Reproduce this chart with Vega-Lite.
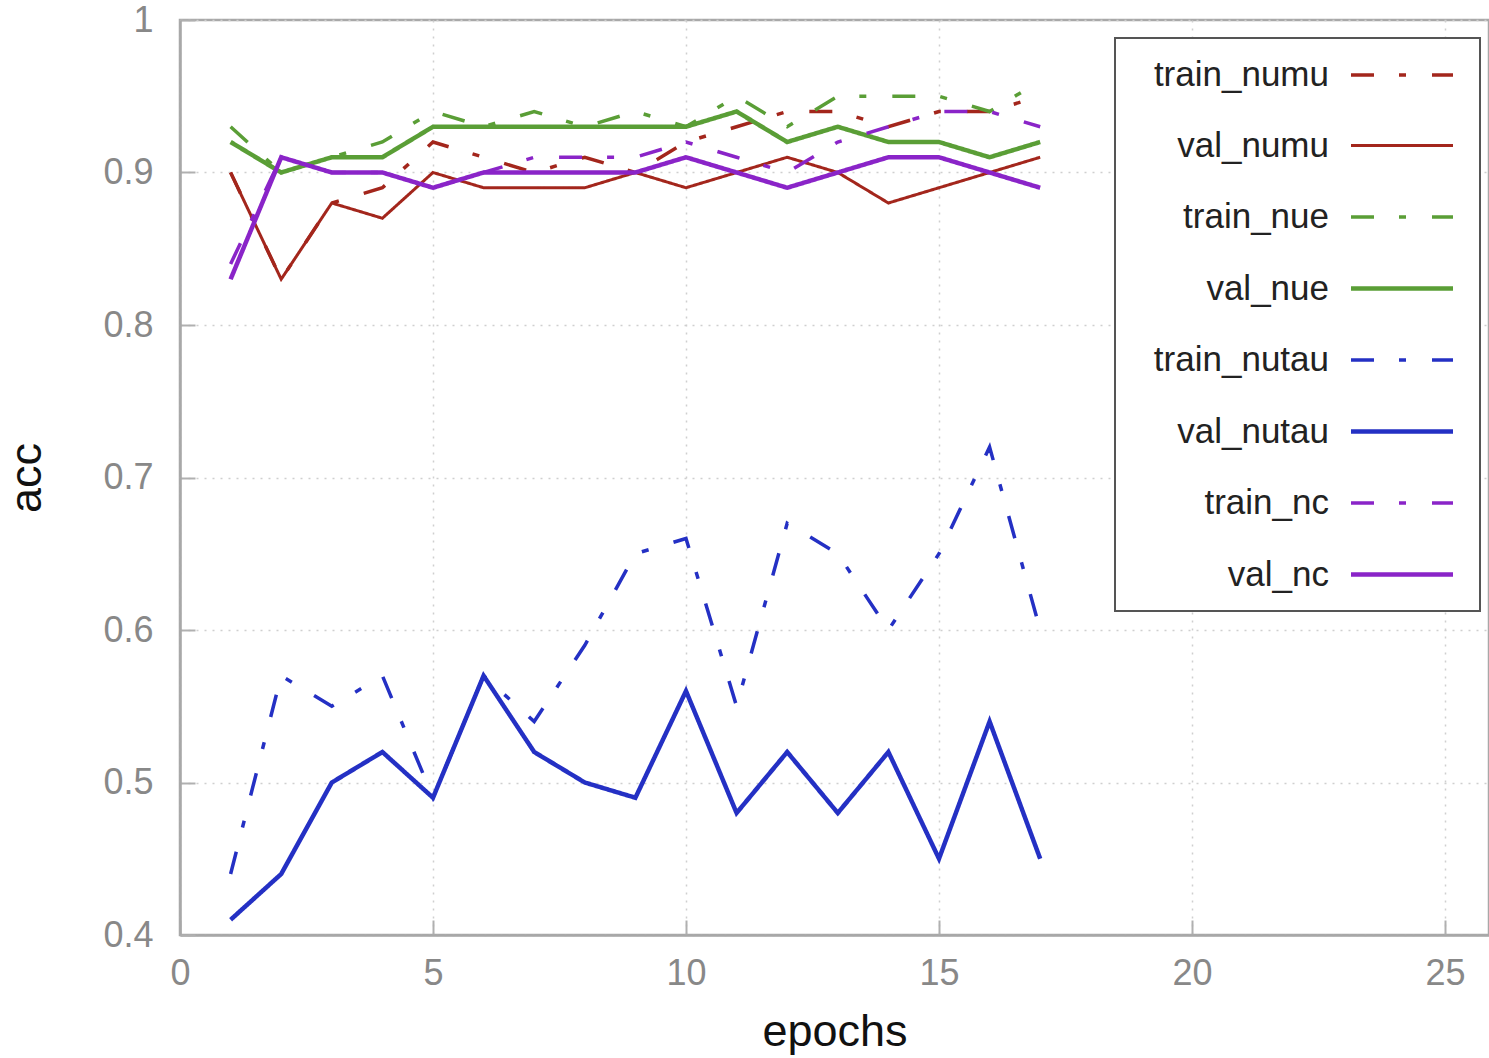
{
  "$schema": "https://vega.github.io/schema/vega-lite/v6.json",
  "width": 1309,
  "height": 915,
  "autosize": {"type": "none"},
  "padding": {"left": 180, "top": 20, "right": 0, "bottom": 123},
  "background": "white",
  "data": {
    "values": [
      {"epoch": 1, "train_numu": 0.90, "val_numu": 0.90, "train_nue": 0.93, "val_nue": 0.92, "train_nutau": 0.44, "val_nutau": 0.41, "train_nc": 0.84, "val_nc": 0.83},
      {"epoch": 2, "train_numu": 0.83, "val_numu": 0.83, "train_nue": 0.90, "val_nue": 0.90, "train_nutau": 0.57, "val_nutau": 0.44, "train_nc": 0.91, "val_nc": 0.91},
      {"epoch": 3, "train_numu": 0.88, "val_numu": 0.88, "train_nue": 0.91, "val_nue": 0.91, "train_nutau": 0.55, "val_nutau": 0.50, "train_nc": 0.90, "val_nc": 0.90},
      {"epoch": 4, "train_numu": 0.89, "val_numu": 0.87, "train_nue": 0.92, "val_nue": 0.91, "train_nutau": 0.57, "val_nutau": 0.52, "train_nc": 0.90, "val_nc": 0.90},
      {"epoch": 5, "train_numu": 0.92, "val_numu": 0.90, "train_nue": 0.94, "val_nue": 0.93, "train_nutau": 0.49, "val_nutau": 0.49, "train_nc": 0.89, "val_nc": 0.89},
      {"epoch": 6, "train_numu": 0.91, "val_numu": 0.89, "train_nue": 0.93, "val_nue": 0.93, "train_nutau": 0.57, "val_nutau": 0.57, "train_nc": 0.90, "val_nc": 0.90},
      {"epoch": 7, "train_numu": 0.90, "val_numu": 0.89, "train_nue": 0.94, "val_nue": 0.93, "train_nutau": 0.54, "val_nutau": 0.52, "train_nc": 0.91, "val_nc": 0.90},
      {"epoch": 8, "train_numu": 0.91, "val_numu": 0.89, "train_nue": 0.93, "val_nue": 0.93, "train_nutau": 0.59, "val_nutau": 0.50, "train_nc": 0.91, "val_nc": 0.90},
      {"epoch": 9, "train_numu": 0.90, "val_numu": 0.90, "train_nue": 0.94, "val_nue": 0.93, "train_nutau": 0.65, "val_nutau": 0.49, "train_nc": 0.91, "val_nc": 0.90},
      {"epoch": 10, "train_numu": 0.92, "val_numu": 0.89, "train_nue": 0.93, "val_nue": 0.93, "train_nutau": 0.66, "val_nutau": 0.56, "train_nc": 0.92, "val_nc": 0.91},
      {"epoch": 11, "train_numu": 0.93, "val_numu": 0.90, "train_nue": 0.95, "val_nue": 0.94, "train_nutau": 0.55, "val_nutau": 0.48, "train_nc": 0.91, "val_nc": 0.90},
      {"epoch": 12, "train_numu": 0.94, "val_numu": 0.91, "train_nue": 0.93, "val_nue": 0.92, "train_nutau": 0.67, "val_nutau": 0.52, "train_nc": 0.90, "val_nc": 0.89},
      {"epoch": 13, "train_numu": 0.94, "val_numu": 0.90, "train_nue": 0.95, "val_nue": 0.93, "train_nutau": 0.65, "val_nutau": 0.48, "train_nc": 0.92, "val_nc": 0.90},
      {"epoch": 14, "train_numu": 0.93, "val_numu": 0.88, "train_nue": 0.95, "val_nue": 0.92, "train_nutau": 0.60, "val_nutau": 0.52, "train_nc": 0.93, "val_nc": 0.91},
      {"epoch": 15, "train_numu": 0.94, "val_numu": 0.89, "train_nue": 0.95, "val_nue": 0.92, "train_nutau": 0.65, "val_nutau": 0.45, "train_nc": 0.94, "val_nc": 0.91},
      {"epoch": 16, "train_numu": 0.94, "val_numu": 0.90, "train_nue": 0.94, "val_nue": 0.91, "train_nutau": 0.72, "val_nutau": 0.54, "train_nc": 0.94, "val_nc": 0.90},
      {"epoch": 17, "train_numu": 0.95, "val_numu": 0.91, "train_nue": 0.96, "val_nue": 0.92, "train_nutau": 0.60, "val_nutau": 0.45, "train_nc": 0.93, "val_nc": 0.89}
    ]
  },
  "transform": [
    {"fold": ["train_numu", "val_numu", "train_nue", "val_nue", "train_nutau", "val_nutau", "train_nc", "val_nc"], "as": ["series", "acc"]}
  ],
  "mark": {"type": "line", "clip": true},
  "encoding": {
    "x": {
      "field": "epoch",
      "type": "quantitative",
      "scale": {"domain": [0, 25.87], "nice": false, "zero": false},
      "axis": {
        "title": "epochs",
        "values": [0, 5, 10, 15, 20, 25],
        "labelPadding": 36,
        "titlePadding": 18
      }
    },
    "y": {
      "field": "acc",
      "type": "quantitative",
      "scale": {"domain": [0.4, 1], "nice": false, "zero": false},
      "axis": {
        "title": "acc",
        "values": [0.4, 0.5, 0.6, 0.7, 0.8, 0.9, 1],
        "format": "~g",
        "labelPadding": 42,
        "labelBaseline": "middle",
        "titlePadding": 53
      }
    },
    "color": {
      "field": "series",
      "type": "nominal",
      "scale": {
        "domain": ["train_numu", "val_numu", "train_nue", "val_nue", "train_nutau", "val_nutau", "train_nc", "val_nc"],
        "range": ["#a3261c", "#a3261c", "#5a9e36", "#5a9e36", "#2430c4", "#2430c4", "#8a24c8", "#8a24c8"]
      },
      "legend": {
        "title": null,
        "orient": "none",
        "legendX": 935,
        "legendY": 18
      }
    },
    "strokeDash": {
      "field": "series",
      "type": "nominal",
      "scale": {
        "domain": ["train_numu", "val_numu", "train_nue", "val_nue", "train_nutau", "val_nutau", "train_nc", "val_nc"],
        "range": [[23, 25, 7, 26], [1, 0], [23, 25, 7, 26], [1, 0], [23, 25, 7, 26], [1, 0], [23, 25, 7, 26], [1, 0]]
      },
      "legend": {
        "title": null,
        "orient": "none",
        "legendX": 935,
        "legendY": 18
      }
    },
    "strokeWidth": {
      "field": "series",
      "type": "nominal",
      "scale": {
        "type": "ordinal",
        "domain": ["train_numu", "val_numu", "train_nue", "val_nue", "train_nutau", "val_nutau", "train_nc", "val_nc"],
        "range": [3.5, 3, 3.5, 4.5, 3.5, 4.5, 3.5, 4.5]
      },
      "legend": null
    }
  },
  "config": {
    "view": {"stroke": "#a8a8a8", "strokeWidth": 2.5},
    "axis": {
      "labelFont": "Liberation Sans",
      "labelFontSize": 36,
      "labelColor": "#888888",
      "labelFlush": false,
      "titleFont": "Liberation Sans",
      "titleFontSize": 45,
      "titleFontWeight": "normal",
      "titleColor": "#111111",
      "domainColor": "#a8a8a8",
      "domainWidth": 2.5,
      "tickColor": "#b0b0b0",
      "tickWidth": 2,
      "tickSize": -15,
      "grid": true,
      "gridColor": "#cfcfcf",
      "gridWidth": 1.5,
      "gridDash": [2, 6]
    },
    "legend": {
      "labelFont": "Liberation Sans",
      "labelFontSize": 35,
      "labelColor": "#222222",
      "labelAlign": "right",
      "labelLimit": 400,
      "labelOffset": -92.5,
      "symbolOffset": 249.5,
      "symbolType": "M -3 0 H 3",
      "symbolSize": 1156,
      "symbolStrokeWidth": 3.5,
      "rowPadding": 34,
      "padding": 18,
      "strokeColor": "#555555",
      "strokeWidth": 2,
      "fillColor": "white",
      "cornerRadius": 0
    }
  }
}
